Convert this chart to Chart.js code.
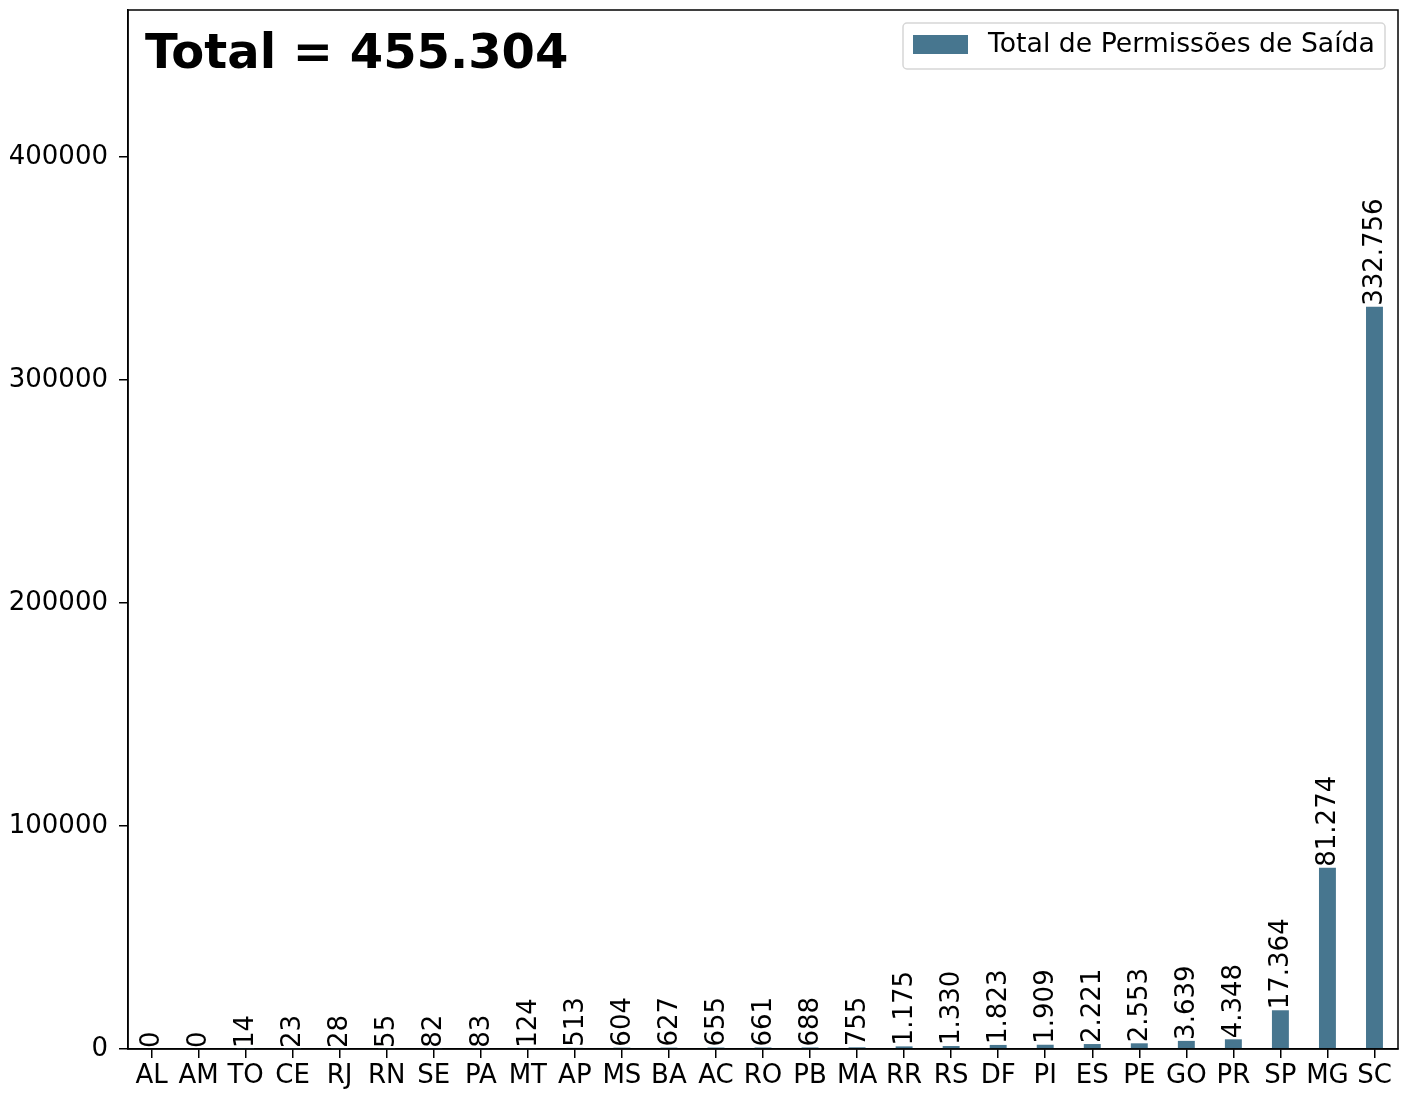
<!DOCTYPE html>
<html>
<head>
<meta charset="utf-8">
<script src="https://cdn.jsdelivr.net/npm/chart.js@4/dist/chart.umd.min.js"></script>
<style>
html,body{margin:0;padding:0;background:#fff;}
#wrap{width:1405px;height:1093px;position:relative;}
</style>
</head>
<body>
<div id="wrap"><canvas id="c" width="1405" height="1093"></canvas></div>
<script>
const categories = ["AL","AM","TO","CE","RJ","RN","SE","PA","MT","AP","MS","BA","AC","RO","PB","MA","RR","RS","DF","PI","ES","PE","GO","PR","SP","MG","SC"];
const values = [0,0,14,23,28,55,82,83,124,513,604,627,655,661,688,755,1175,1330,1823,1909,2221,2553,3639,4348,17364,81274,332756];
const yTicks = [0,100000,200000,300000,400000];
const seriesLabel = "Total de Permissões de Saída";
const titleText = "Total = 455.304";
const barColor = "#47768f";
const FONT = "'DejaVu Sans', sans-serif";

function fmt(v){ return v.toString().replace(/\B(?=(\d{3})+(?!\d))/g, "."); }

const overlay = {
  id:'overlay',
  afterDatasetsDraw(chart){
    const ctx = chart.ctx, ca = chart.chartArea;
    const meta = chart.getDatasetMeta(0);
    ctx.save();
    ctx.fillStyle = '#000';
    ctx.font = "26px " + FONT;
    ctx.textAlign = 'left';
    ctx.textBaseline = 'middle';
    meta.data.forEach((bar,i)=>{
      ctx.save();
      ctx.translate(bar.x, bar.y - 1);
      ctx.rotate(-Math.PI/2);
      ctx.fillText(fmt(values[i]), 0, 1);
      ctx.restore();
    });
    // frame
    ctx.strokeStyle = '#000';
    ctx.lineWidth = 1.5;
    ctx.strokeRect(ca.left, ca.top, ca.right-ca.left, ca.bottom-ca.top);
    // title
    ctx.font = "bold 48px " + FONT;
    ctx.textBaseline = 'alphabetic';
    ctx.fillText(titleText, 145, 68);
    // legend
    const lx = 903, ly = 23, lw = 482, lh = 46;
    ctx.fillStyle = 'rgba(255,255,255,0.8)';
    ctx.strokeStyle = '#d6d6d6';
    ctx.lineWidth = 1.5;
    ctx.beginPath();
    if (ctx.roundRect) ctx.roundRect(lx, ly, lw, lh, 4); else ctx.rect(lx,ly,lw,lh);
    ctx.fill(); ctx.stroke();
    ctx.fillStyle = barColor;
    ctx.fillRect(913, 35, 55, 19);
    ctx.fillStyle = '#000';
    ctx.font = "26.7px " + FONT;
    ctx.textBaseline = 'middle';
    ctx.fillText(seriesLabel, 988, 45);
    ctx.restore();
  }
};

new Chart(document.getElementById('c'), {
  type:'bar',
  data:{
    labels: categories,
    datasets:[{
      label: seriesLabel,
      data: values,
      backgroundColor: barColor,
      borderWidth:0,
      categoryPercentage:1.0,
      barPercentage:0.36
    }]
  },
  options:{
    responsive:false,
    animation:false,
    devicePixelRatio:1,
    layout:{padding:{left:0,top:10,right:7,bottom:0}},
    plugins:{legend:{display:false},tooltip:{enabled:false},title:{display:false}},
    scales:{
      x:{
        offset:true,
        grid:{offset:false,drawOnChartArea:false,drawTicks:true,tickLength:9,color:'#000',lineWidth:1.5},
        border:{display:true,color:'#000',width:1.5},
        ticks:{color:'#000',font:{family:FONT,size:26},maxRotation:0,autoSkip:false,padding:3},
        afterFit(s){ s.height = 44; s.paddingLeft = 0; s.paddingRight = 0; }
      },
      y:{
        min:0,
        max:465858,
        afterBuildTicks(s){ s.ticks = yTicks.map(v=>({value:v})); },
        grid:{drawOnChartArea:false,drawTicks:true,tickLength:9,color:'#000',lineWidth:1.5},
        border:{display:true,color:'#000',width:1.5},
        ticks:{color:'#000',font:{family:FONT,size:26},padding:11,callback:v=>String(v)},
        afterFit(s){ s.width = 128; s.paddingTop = 0; s.paddingBottom = 0; }
      }
    }
  },
  plugins:[overlay]
});
</script>
</body>
</html>
